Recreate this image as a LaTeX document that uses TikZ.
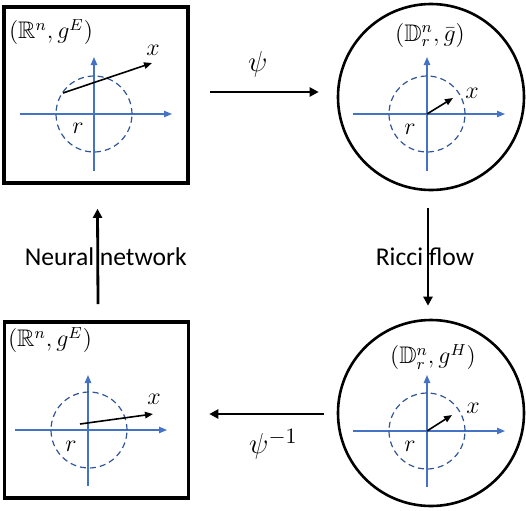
\documentclass[tikz,border=0pt]{standalone}
\usepackage{amsmath}
\usepackage{amssymb}
\usepackage{fontspec}
\setsansfont{Carlito}
\usetikzlibrary{arrows.meta}

\definecolor{axisblue}{RGB}{68,114,196}
\definecolor{ballblue}{RGB}{47,85,151}

\tikzset{
  chartbox/.style = {draw=black,line width=1.8pt,minimum width=92pt,minimum height=88pt,inner sep=0pt},
  chartdisc/.style = {draw=black,circle,line width=1.3pt,minimum size=93pt,inner sep=0pt},
  map/.style = {-{Triangle[length=4.5pt,width=4.5pt]},line width=1.4pt},
  axis/.style = {-{Triangle[length=4pt,width=3.2pt]},draw=axisblue,line width=0.6pt},
  ball/.style = {draw=ballblue,dash pattern=on 3pt off 2pt,line width=0.6pt},
  vec/.style = {-{Triangle[length=4pt,width=3.2pt]},line width=0.8pt},
  mathlabel/.style = {font=\fontsize{12}{14}\selectfont,inner sep=0pt},
  maplabel/.style = {font=\fontsize{15}{18}\selectfont,inner sep=0pt},
  word/.style = {font=\sffamily\fontsize{12.8}{15}\selectfont,inner sep=0pt}
}

\begin{document}
\begin{tikzpicture}[x=0.5pt,y=-0.5pt]
		\useasboundingbox (0,0) rectangle (526,510);
		% charts
		\node[chartbox] (Rn) at (96,95) {};
		\node[chartdisc] (Dbar) at (431,97) {};
		\node[chartdisc] (DH) at (431,413) {};
		\node[chartbox] (Rn2) at (96.5,410) {};
		% origins
		\coordinate (O1) at (94,114);
		\coordinate (O2) at (427,114);
		\coordinate (O3) at (427,431);
		\coordinate (O4) at (88,430);
		% euclidean space, top
		\node[mathlabel] (L1) at (51,32) {$(\mathbb{R}^n,g^E)$};
		\draw[axis] ([xshift=-37pt]O1) -- ([xshift=39pt]O1);
		\draw[axis] ([yshift=-28.5pt]O1) -- ([yshift=28.5pt]O1);
		\draw[ball] (O1) circle [radius=19pt];
		\node[mathlabel] (r1) at (78,128) {$r$};
		\coordinate (t1) at (63,93);
		\coordinate (h1) at (152,63);
		\draw[vec] (t1) -- (h1);
		\node[mathlabel] (x1) at (153,50) {$x$};
		% disc with metric g bar
		\node[mathlabel] (L2) at (430,35) {$(\mathbb{D}^n_r,\bar{g})$};
		\draw[axis] ([xshift=-37pt]O2) -- ([xshift=39pt]O2);
		\draw[axis] ([yshift=-28.5pt]O2) -- ([yshift=28.5pt]O2);
		\draw[ball] (O2) circle [radius=19pt];
		\node[mathlabel] (r2) at (410,129) {$r$};
		\coordinate (h2) at (453,98);
		\draw[vec] (O2) -- (h2);
		\node[mathlabel] (x2) at (472,93) {$x$};
		% disc with hyperbolic metric
		\node[mathlabel] (L3) at (433,357) {$(\mathbb{D}^n_r,g^H)$};
		\draw[axis] ([xshift=-37pt]O3) -- ([xshift=39pt]O3);
		\draw[axis] ([yshift=-28pt]O3) -- ([yshift=28pt]O3);
		\draw[ball] (O3) circle [radius=19pt];
		\node[mathlabel] (r3) at (410,446) {$r$};
		\coordinate (h3) at (452,415);
		\draw[vec] (O3) -- (h3);
		\node[mathlabel] (x3) at (473,408) {$x$};
		% euclidean space, bottom
		\node[mathlabel] (L4) at (50,340) {$(\mathbb{R}^n,g^E)$};
		\draw[axis] ([xshift=-36.5pt]O4) -- ([xshift=39.5pt]O4);
		\draw[axis] ([yshift=-28pt]O4) -- ([yshift=27.5pt]O4);
		\draw[ball] ([xshift=0.5pt]O4) circle [radius=19pt];
		\node[mathlabel] (r4) at (71,446) {$r$};
		\coordinate (t4) at (80,424);
		\coordinate (h4) at (153,414);
		\draw[vec] (t4) -- (h4);
		\node[mathlabel] (x4) at (154,399) {$x$};
		% maps between the charts
		\draw[map] ([shift={(20,-3)}]Rn.east) -- ([shift={(-18,-5)}]Dbar.west)
			node[maplabel,pos=0.44,above=7pt] (psi) {$\psi$};
		\draw[map] ([shift={(-3,17)}]Dbar.south) -- ([shift={(-3,-13)}]DH.north)
			node[word,midway,xshift=-1.5pt] (ricci) {Ricci flow};
		\draw[map] ([shift={(-13,1)}]DH.west) -- ([shift={(19,4)}]Rn2.east)
			node[maplabel,pos=0.44,below=7pt] (psiinv) {$\psi^{-1}$};
		\draw[map] ([shift={(1.5,-16)}]Rn2.north) -- ([shift={(1.5,24)}]Rn.south)
			node[word,midway,xshift=4pt] (nn) {Neural network};
\end{tikzpicture}
\end{document}
